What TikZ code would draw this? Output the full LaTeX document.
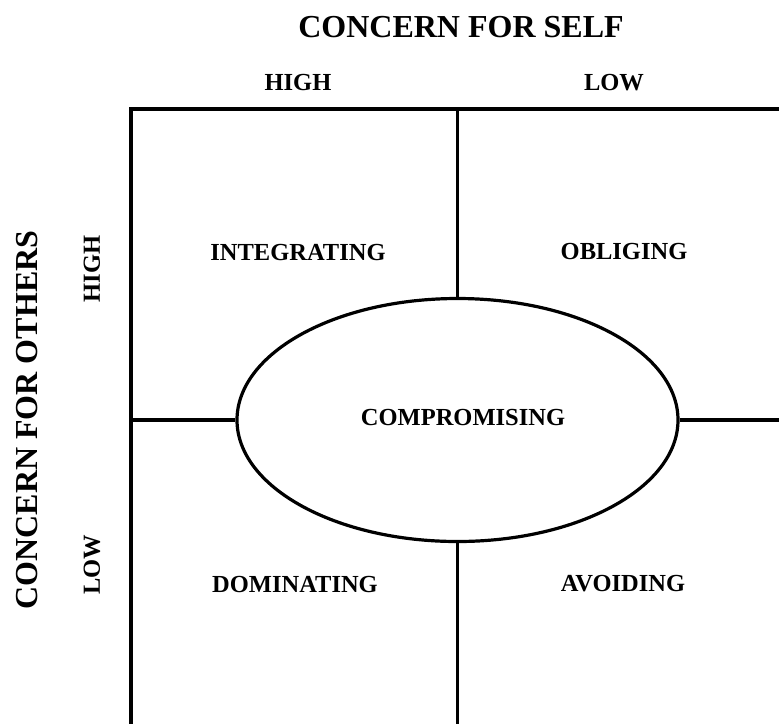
\documentclass[tikz,border=0pt]{standalone}
\usepackage{fontspec}
\setmainfont{Liberation Serif}
\usetikzlibrary{shapes.geometric}
\begin{document}
\begin{tikzpicture}[x=1pt,y=-1pt,
  lbl/.style={font=\bfseries\fontsize{24.5}{27}\selectfont, inner sep=0pt},
  big/.style={font=\bfseries\fontsize{32}{35}\selectfont, inner sep=0pt},
  ln/.style={line width=3.5pt},
  ell/.style={ellipse, draw, line width=3.2pt, minimum width=441pt, minimum height=243pt, inner sep=0pt}]
\useasboundingbox (0,0) rectangle (779,724);
% frame coordinates
\coordinate (tl) at (131,109);
\coordinate (tr) at (779,109);
\coordinate (bl) at (131,724);
\coordinate (tm) at (457.5,109);
\coordinate (bm) at (457.5,724);
\coordinate (ml) at (131,420);
\coordinate (mr) at (779,420);
% central ellipse
\node[ell] (comp) at (457.5,420) {};
\node[lbl] (comptxt) at (463,417) {COMPROMISING};
% frame lines
\draw[ln] (tr) -- (tl) -- (bl);
\draw[ln] (tm) -- (comp.north);
\draw[ln] (comp.south) -- (bm);
\draw[ln] (ml) -- (comp.west);
\draw[ln] (comp.east) -- (mr);
% axis titles
\node[big] (self) at (461,27) {CONCERN FOR SELF};
\node[big, rotate=90] (others) at (27,420) {CONCERN FOR OTHERS};
% axis levels
\node[lbl] (hightop) at (298,83) {HIGH};
\node[lbl] (lowtop) at (614,83) {LOW};
\node[lbl, rotate=90] (highleft) at (92,269) {HIGH};
\node[lbl, rotate=90] (lowleft) at (92,565) {LOW};
% quadrant labels
\node[lbl] (integ) at (298,253) {INTEGRATING};
\node[lbl] (oblig) at (624,252) {OBLIGING};
\node[lbl] (domin) at (295,584) {DOMINATING};
\node[lbl] (avoid) at (623,584) {AVOIDING};
\end{tikzpicture}
\end{document}
